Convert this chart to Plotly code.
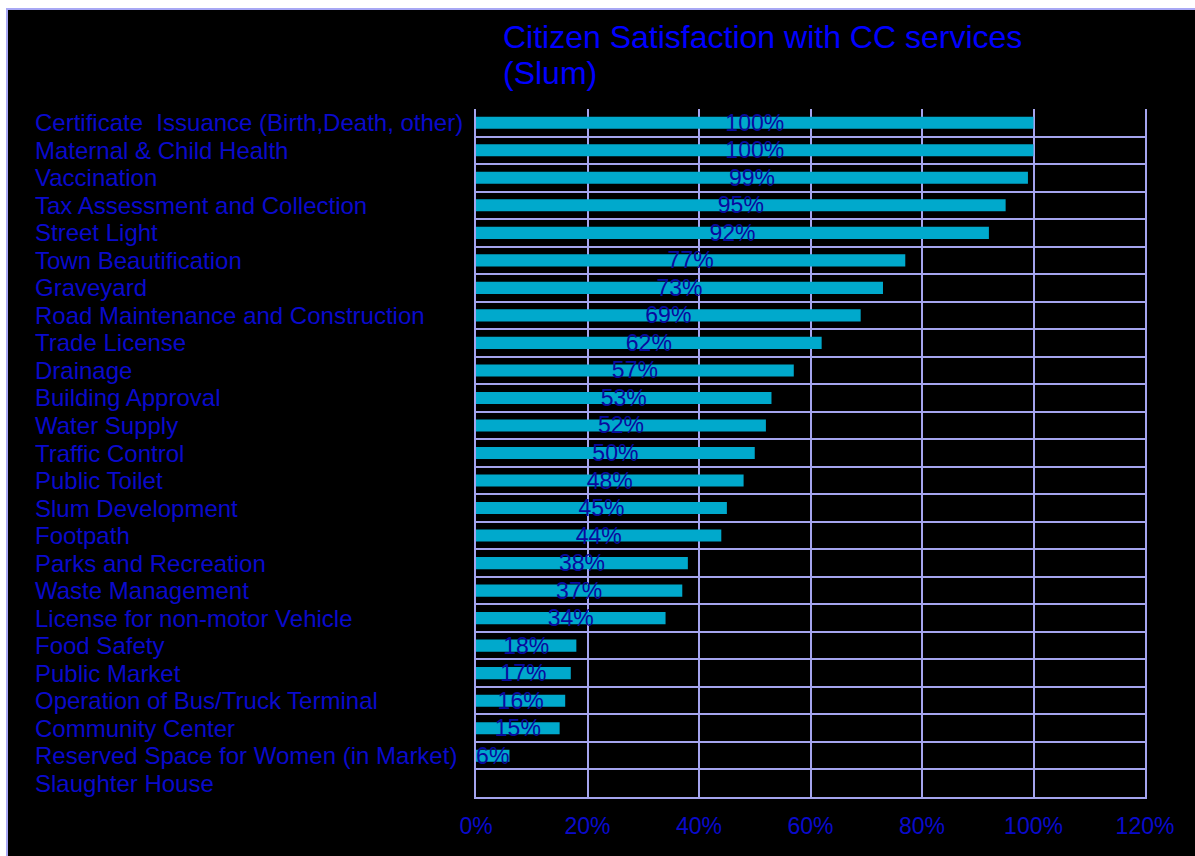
import plotly.graph_objects as go

# Services, listed top to bottom, with the share of satisfied citizens (%)
services = [
    "Certificate  Issuance (Birth,Death, other)",
    "Maternal & Child Health",
    "Vaccination",
    "Tax Assessment and Collection",
    "Street Light",
    "Town Beautification",
    "Graveyard",
    "Road Maintenance and Construction",
    "Trade License",
    "Drainage",
    "Building Approval",
    "Water Supply",
    "Traffic Control",
    "Public Toilet",
    "Slum Development",
    "Footpath",
    "Parks and Recreation",
    "Waste Management",
    "License for non-motor Vehicle",
    "Food Safety",
    "Public Market",
    "Operation of Bus/Truck Terminal",
    "Community Center",
    "Reserved Space for Women (in Market)",
    "Slaughter House",
]
satisfaction = [100, 100, 99, 95, 92, 77, 73, 69, 62, 57, 53, 52, 50, 48, 45,
                44, 38, 37, 34, 18, 17, 16, 15, 6, 0]
x_ticks = [0, 20, 40, 60, 80, 100, 120]
title_lines = ["Citizen Satisfaction with CC services", "(Slum)"]

W, H = 1195, 856
ML, MR, MT, MB = 476, 50, 109, 59
plot_w = W - ML - MR
plot_h = H - MT - MB

FONT = "Arial, 'Liberation Sans', sans-serif"
GRID = "#A4A4EE"
BAR = "#00A9CC"

positions = list(range(len(services)))
labels = [f"{v}%" if v > 0 else "" for v in satisfaction]

fig = go.Figure(
    go.Bar(
        x=satisfaction,
        y=positions,
        orientation="h",
        width=0.44,
        marker=dict(color=BAR, line=dict(width=0)),
        text=labels,
        textposition="inside",
        insidetextanchor="middle",
        constraintext="none",
        insidetextfont=dict(family=FONT, size=23, color="#0A0A9E"),
        cliponaxis=False,
        hoverinfo="skip",
    )
)


def px_to_paper_x(px):
    return (px - ML) / plot_w


def px_to_paper_y(py):
    return (H - MB - py) / plot_h


# Left-aligned service names
for pos, name in zip(positions, services):
    fig.add_annotation(
        x=px_to_paper_x(33), xref="paper", xanchor="left",
        y=pos, yref="y", yanchor="middle",
        text=name, showarrow=False,
        font=dict(family=FONT, size=24, color="#0A0ACC"),
    )

# Chart title, two left-aligned lines with tight leading
for line_text, centre_px in zip(title_lines, [37, 73]):
    fig.add_annotation(
        x=px_to_paper_x(501), xref="paper", xanchor="left",
        y=px_to_paper_y(centre_px), yref="paper", yanchor="middle",
        text=line_text, showarrow=False,
        font=dict(family=FONT, size=32, color="#0000FF"),
    )

# Black slide panel with a light border on its top and left edges
fig.add_shape(
    type="rect", xref="paper", yref="paper", layer="below",
    x0=px_to_paper_x(7), x1=px_to_paper_x(W + 200),
    y0=px_to_paper_y(H + 200), y1=px_to_paper_y(9),
    fillcolor="black", line=dict(color="#A8A8F4", width=2),
)

fig.update_layout(
    width=W, height=H,
    margin=dict(l=ML, r=MR, t=MT, b=MB, autoexpand=False),
    paper_bgcolor="white",
    plot_bgcolor="black",
    showlegend=False,
    xaxis=dict(
        range=[0, 120],
        tickvals=x_ticks,
        ticktext=[f"{t}%" for t in x_ticks],
        showgrid=True, gridcolor=GRID, gridwidth=2,
        zeroline=False,
        showline=True, linecolor=GRID, linewidth=2,
        ticks="outside", ticklen=7, tickcolor="rgba(0,0,0,0)",
        tickfont=dict(family=FONT, size=23, color="#0A0ACC"),
        fixedrange=True,
    ),
    yaxis=dict(
        range=[len(services) - 0.5, -0.5],
        showticklabels=False,
        ticks="",
        showgrid=False,
        zeroline=False,
        showline=True, linecolor=GRID, linewidth=2, mirror=True,
        minor=dict(tick0=0.5, dtick=1, showgrid=True, gridcolor=GRID,
                   gridwidth=2, ticks=""),
        fixedrange=True,
    ),
)

fig.write_html("out.html")
